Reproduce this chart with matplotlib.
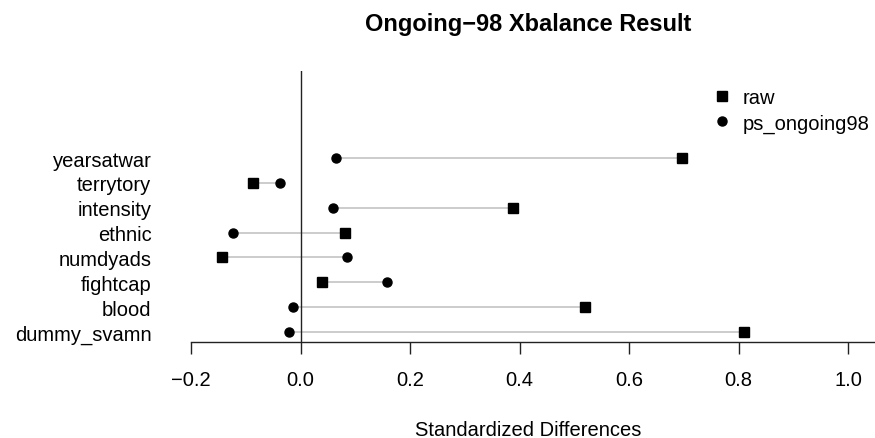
import matplotlib
matplotlib.use("Agg")
from matplotlib import pyplot as plt
from matplotlib.lines import Line2D

plt.rcParams['font.family'] = ['Liberation Sans', 'DejaVu Sans']

# covariates, top to bottom
variables = ['yearsatwar', 'terrytory', 'intensity', 'ethnic',
             'numdyads', 'fightcap', 'blood', 'dummy_svamn']
raw = [0.697, -0.087, 0.388, 0.081, -0.143, 0.040, 0.520, 0.810]
ps_ongoing98 = [0.065, -0.037, 0.059, -0.123, 0.085, 0.157, -0.014, -0.021]
x_ticks = [-0.2, 0.0, 0.2, 0.4, 0.6, 0.8, 1.0]
x_tick_labels = ['\u22120.2', '0.0', '0.2', '0.4', '0.6', '0.8', '1.0']

W, H = 875, 439
# plot region in pixels
left, right, top, bottom = 191, 875, 72, 343

fig = plt.figure(figsize=(W / 100, H / 100), dpi=100)
ax = fig.add_axes([left / W, 1 - bottom / H, (right - left) / W, (bottom - top) / H])

n = len(variables)
ypos = list(range(n, 0, -1))

# connecting segments
for y, a, b in zip(ypos, raw, ps_ongoing98):
    ax.plot([a, b], [y, y], color='#c4c4c4', lw=1.2, zorder=1)

ax.axvline(0, color='#222222', lw=1.0, zorder=2)

ax.plot(raw, ypos, 's', color='black', markersize=6.7, ls='none', zorder=3)
ax.plot(ps_ongoing98, ypos, 'o', color='black', markersize=6.5, ls='none', zorder=3)

ax.set_xlim(-0.2, 1.049)
ax.set_ylim(0.598, 11.5)

ax.set_yticks(ypos)
ax.set_yticklabels(variables, fontsize=14.5)
ax.tick_params(axis='y', length=0, pad=28.5)

ax.set_xticks(x_ticks)
ax.set_xticklabels(x_tick_labels, fontsize=14.5)
ax.tick_params(axis='x', direction='out', length=8.6, width=1.0, pad=11.5, color='#222222')

for s in ('top', 'right', 'left'):
    ax.spines[s].set_visible(False)
ax.spines['bottom'].set_linewidth(1.0)
ax.spines['bottom'].set_color('#222222')

ax.set_xlabel('Standardized Differences', fontsize=14.5)
ax.xaxis.set_label_coords((528 - left) / (right - left), (bottom - 421) / (bottom - top))

fig.text(528 / W, 1 - 24 / H, 'Ongoing\u221298 Xbalance Result',
         fontsize=17, fontweight='bold', ha='center', va='center')

handles = [Line2D([], [], marker='s', color='black', ls='none', markersize=6.7),
           Line2D([], [], marker='o', color='black', ls='none', markersize=6.5)]
ax.legend(handles, ['raw', 'ps_ongoing98'], loc='upper left',
          bbox_to_anchor=((712 - left) / (right - left), 1 - (89 - top) / (bottom - top)),
          frameon=False, fontsize=14.5, handlelength=1.0, handletextpad=0.5,
          labelspacing=0.32, borderpad=0, borderaxespad=0)

fig.savefig('out.png', dpi=100)
